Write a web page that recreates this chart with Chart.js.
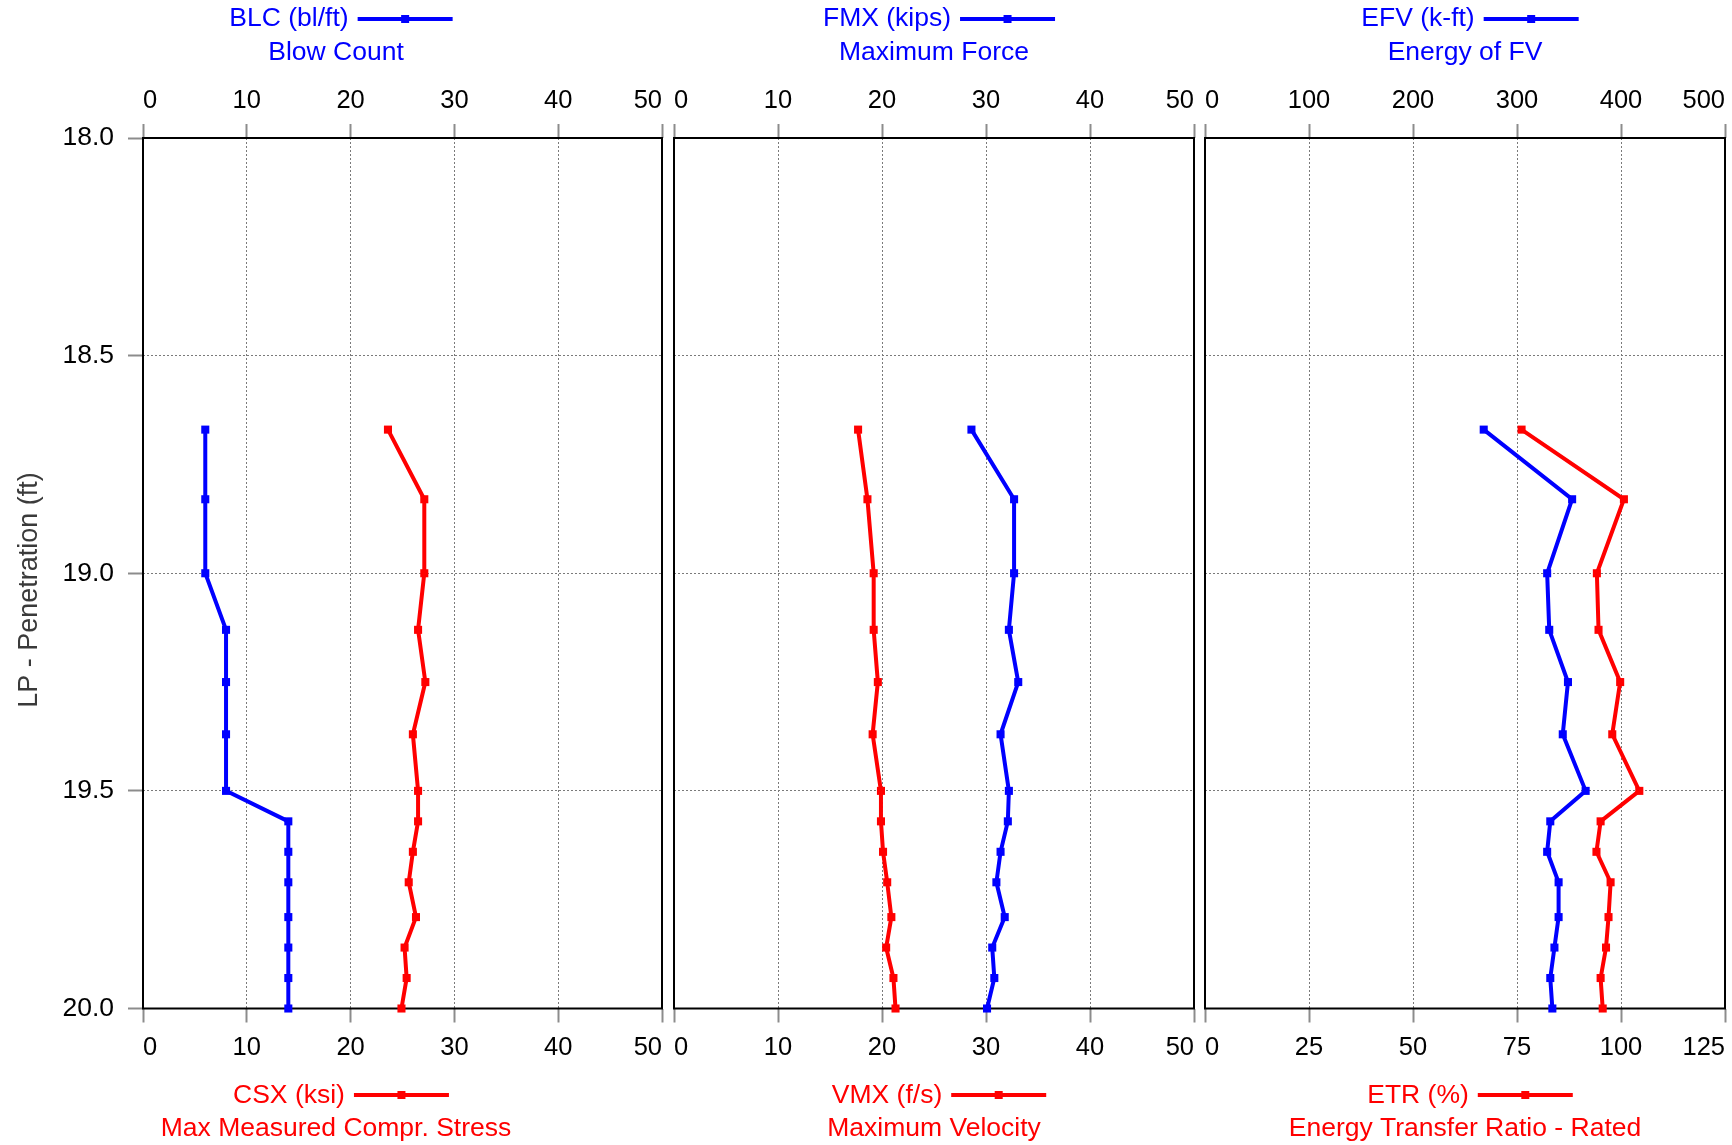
<!DOCTYPE html>
<html>
<head>
<meta charset="utf-8">
<script src="https://cdn.jsdelivr.net/npm/chart.js@4.4.1/dist/chart.umd.min.js"></script>
<style>
  html, body { margin: 0; padding: 0; background: #fff; }
  #wrap { position: relative; width: 1732px; height: 1145px; overflow: hidden; }
  canvas { position: absolute; top: 0; }
</style>
</head>
<body>
<div id="wrap">
  <canvas id="c1" width="672" height="1145" style="left:0px"></canvas>
  <canvas id="c2" width="540" height="1145" style="left:664px"></canvas>
  <canvas id="c3" width="540" height="1145" style="left:1195px"></canvas>
</div>
<script>
// penetration (ft) of each record
const depth = [18.67, 18.83, 19.00, 19.13, 19.25, 19.37, 19.50, 19.57, 19.64, 19.71, 19.79, 19.86, 19.93, 20.00];
// blue series (top axes)
const blc = [6, 6, 6, 8, 8, 8, 8, 14, 14, 14, 14, 14, 14, 14];
const fmx = [28.6, 32.7, 32.7, 32.2, 33.1, 31.4, 32.2, 32.1, 31.4, 31.0, 31.8, 30.6, 30.8, 30.1];
const efv = [268, 353, 329, 331, 349, 344, 366, 332, 329, 340, 340, 336, 332, 334];
// red series (bottom axes)
const csx = [23.6, 27.1, 27.1, 26.5, 27.2, 26.0, 26.5, 26.5, 26.0, 25.6, 26.3, 25.2, 25.4, 24.9];
const vmx = [17.7, 18.6, 19.2, 19.2, 19.6, 19.1, 19.9, 19.9, 20.1, 20.5, 20.9, 20.4, 21.1, 21.3];
const etr = [76.1, 100.7, 94.2, 94.6, 99.8, 97.9, 104.4, 95.1, 94.1, 97.5, 97.0, 96.4, 95.1, 95.6];

// tick labels
const yTicks = [18.0, 18.5, 19.0, 19.5, 20.0];
const ticks50 = [0, 10, 20, 30, 40, 50];
const ticksEfv = [0, 100, 200, 300, 400, 500];
const ticksEtr = [0, 25, 50, 75, 100, 125];

const FONT = '"Liberation Sans", Arial, Helvetica, sans-serif';
const BLUE = '#0000ff';
const RED = '#ff0000';
const AREA_TOP = 138;
const AREA_BOTTOM = 1008.5;

function series(vals, axis, color) {
    return {
        data: depth.map((d, i) => ({ x: vals[i], y: d })),
        xAxisID: axis,
        borderColor: color,
        backgroundColor: color,
        borderWidth: 4,
        pointStyle: 'rect',
        pointRadius: 5.7,
        pointHoverRadius: 5.7,
        pointBorderWidth: 0,
        showLine: true,
        tension: 0,
        clip: false
    };
}

function xScale(pos, ticks, onArea) {
    return {
        type: 'linear',
        position: pos,
        min: ticks[0],
        max: ticks[ticks.length - 1],
        afterBuildTicks: (ax) => { ax.ticks = ticks.map((v) => ({ value: v })); },
        afterFit: (ax) => { ax.height = pos === 'top' ? AREA_TOP : 1145 - AREA_BOTTOM; },
        grid: {
            drawOnChartArea: onArea, color: '#7a7a7a', lineWidth: 1,
            tickLength: 14, tickColor: '#8c8c8c', tickWidth: 2, tickBorderDash: []
        },
        border: { display: false, dash: [2, 2] },
        ticks: {
            align: 'inner', padding: pos === 'top' ? 8 : 10, color: '#000', maxRotation: 0,
            font: { family: FONT, size: 25.5 }
        }
    };
}

function yScale(showY) {
    return {
        type: 'linear',
        reverse: true,
        min: 18,
        max: 20,
        afterBuildTicks: (ax) => { ax.ticks = yTicks.map((v) => ({ value: v })); },
        afterFit: (ax) => { ax.width = showY ? 143 : 0; },
        grid: {
            color: '#7a7a7a', lineWidth: 1, drawTicks: showY,
            tickLength: 15, tickColor: '#8c8c8c', tickWidth: 2, tickBorderDash: []
        },
        border: { display: false, dash: [2, 2] },
        ticks: {
            display: showY, padding: 14, color: '#000',
            font: { family: FONT, size: 26.5 },
            callback: (v) => Number(v).toFixed(1)
        }
    };
}

function drawKey(ctx, cx, yLine, yBase, ySub, key) {
    ctx.save();
    ctx.font = '26.5px ' + FONT;
    ctx.fillStyle = key.color;
    ctx.strokeStyle = key.color;
    const w = ctx.measureText(key.name).width;
    const gap = 9, len = 95;
    const start = cx + 5 - (w + gap + len) / 2;
    ctx.textAlign = 'left';
    ctx.textBaseline = 'alphabetic';
    ctx.fillText(key.name, start, yBase);
    const x0 = start + w + gap;
    ctx.lineWidth = 4;
    ctx.beginPath();
    ctx.moveTo(x0, yLine);
    ctx.lineTo(x0 + len, yLine);
    ctx.stroke();
    ctx.fillRect(x0 + len / 2 - 4, yLine - 4, 8, 8);
    ctx.textAlign = 'center';
    ctx.fillText(key.sub, cx, ySub);
    ctx.restore();
}

const panelDeco = {
    id: 'panelDeco',
    beforeDatasetsDraw(chart, args, opts) {
        const a = chart.chartArea;
        const ctx = chart.ctx;
        ctx.save();
        ctx.strokeStyle = '#000';
        ctx.lineWidth = 2;
        ctx.strokeRect(a.left, a.top, a.right - a.left, a.bottom - a.top);
        ctx.restore();
    },
    afterDraw(chart, args, opts) {
        const a = chart.chartArea;
        const ctx = chart.ctx;
        const cx = opts.cx != null ? opts.cx : (a.left + a.right) / 2;
        drawKey(ctx, cx, 19, 26, 60, opts.top);
        drawKey(ctx, cx, 1095, 1103, 1136, opts.bottom);
        if (opts.yTitle) {
            ctx.save();
            ctx.translate(37, 590);
            ctx.rotate(-Math.PI / 2);
            ctx.font = '27px ' + FONT;
            ctx.fillStyle = '#3a3a3a';
            ctx.textAlign = 'center';
            ctx.textBaseline = 'alphabetic';
            ctx.fillText(opts.yTitle, 0, 0);
            ctx.restore();
        }
    }
};

function makePanel(id, cfg) {
    const ctx = document.getElementById(id).getContext('2d');
    return new Chart(ctx, {
        type: 'scatter',
        data: {
            datasets: [
                series(cfg.topVals, 'xTop', BLUE),
                series(cfg.bottomVals, 'xBottom', RED)
            ]
        },
        options: {
            responsive: false,
            animation: false,
            events: [],
            layout: { padding: cfg.padding },
            scales: {
                xTop: xScale('top', cfg.topTicks, true),
                xBottom: xScale('bottom', cfg.bottomTicks, false),
                y: yScale(cfg.showY)
            },
            plugins: {
                legend: { display: false },
                tooltip: { enabled: false },
                panelDeco: {
                    cx: cfg.cx,
                    yTitle: cfg.yTitle,
                    top: cfg.topKey,
                    bottom: cfg.bottomKey
                }
            }
        },
        plugins: [panelDeco]
    });
}

makePanel('c1', {
    topVals: blc, bottomVals: csx, topTicks: ticks50, bottomTicks: ticks50,
    showY: true, yTitle: 'LP - Penetration (ft)', cx: 336,
    padding: { left: 0, right: 10, top: 0, bottom: 0 },
    topKey: { name: 'BLC (bl/ft)', sub: 'Blow Count', color: BLUE },
    bottomKey: { name: 'CSX (ksi)', sub: 'Max Measured Compr. Stress', color: RED }
});

makePanel('c2', {
    topVals: fmx, bottomVals: vmx, topTicks: ticks50, bottomTicks: ticks50,
    showY: false,
    padding: { left: 10, right: 10, top: 0, bottom: 0 },
    topKey: { name: 'FMX (kips)', sub: 'Maximum Force', color: BLUE },
    bottomKey: { name: 'VMX (f/s)', sub: 'Maximum Velocity', color: RED }
});

makePanel('c3', {
    topVals: efv, bottomVals: etr, topTicks: ticksEfv, bottomTicks: ticksEtr,
    showY: false,
    padding: { left: 10, right: 10, top: 0, bottom: 0 },
    topKey: { name: 'EFV (k-ft)', sub: 'Energy of FV', color: BLUE },
    bottomKey: { name: 'ETR (%)', sub: 'Energy Transfer Ratio - Rated', color: RED }
});
</script>
</body>
</html>
